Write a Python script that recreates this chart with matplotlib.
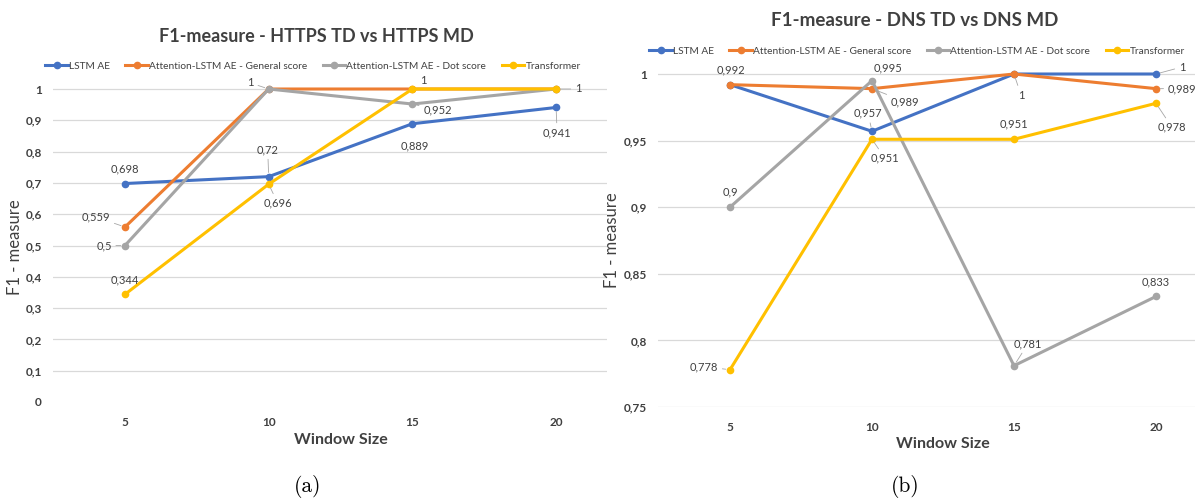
import matplotlib
matplotlib.use("Agg")
import matplotlib.pyplot as plt
import numpy as np

# ---- data -------------------------------------------------------------
window_sizes = ["5", "10", "15", "20"]
series_names = ["LSTM AE", "Attention-LSTM AE - General score",
                "Attention-LSTM AE - Dot score", "Transformer"]

https_lstm = [0.698, 0.72, 0.889, 0.941]
https_general = [0.559, 1, 1, 1]
https_dot = [0.5, 1, 0.952, 1]
https_transformer = [0.344, 0.696, 1, 1]

dns_lstm = [0.992, 0.957, 1, 1]
dns_general = [0.992, 0.989, 1, 0.989]
dns_dot = [0.9, 0.995, 0.781, 0.833]
dns_transformer = [0.778, 0.951, 0.951, 0.978]

https_yticks = [0, 0.1, 0.2, 0.3, 0.4, 0.5, 0.6, 0.7, 0.8, 0.9, 1]
dns_yticks = [0.75, 0.8, 0.85, 0.9, 0.95, 1]

# ---- styling ----------------------------------------------------------
colors = ["#4472C4", "#ED7D31", "#A5A5A5", "#FFC000"]
plt.rcParams["font.family"] = ["Lato", "DejaVu Sans"]

# data-label placement: (series, point) -> (dx px, dy px, leader line)
https_labels = {
    (0, 0): (0, 15, False), (0, 1): (-1, 27, True),
    (0, 2): (2, -22, False), (0, 3): (1, -25, True),
    (1, 0): (-29, 10, True),
    (2, 0): (-21, 0, True), (2, 1): (-18, 6, True),
    (2, 2): (25, -6, True), (2, 3): (22, 0, True),
    (3, 0): (0, 14, False), (3, 1): (9, -19, True), (3, 2): (11, 8, False),
}
dns_labels = {
    (0, 0): (1, 15, False), (0, 1): (-4, 18, True),
    (0, 2): (7, -21, True), (0, 3): (26, 7, True),
    (1, 1): (33, -13, True), (1, 3): (26, 0, True),
    (2, 0): (0, 15, False), (2, 1): (16, 13, False),
    (2, 2): (14, 22, True), (2, 3): (0, 15, False),
    (3, 0): (-26, 3, True), (3, 1): (13, -19, True),
    (3, 2): (0, 15, False), (3, 3): (16, -24, True),
}

W, H = 1195, 501
fig = plt.figure(figsize=(W / 100, H / 100), dpi=100)


def fx(x):
    return x / W


def fy(y):
    return 1 - y / H


def fmt(v):
    return f"{v:g}".replace(".", ",")


def panel(rect_px, xlim, ylim, series, yticks, labels, hide_zero_grid):
    x0, y_top, x1, y_bot = rect_px
    ax = fig.add_axes([fx(x0), fy(y_bot), (x1 - x0) / W, (y_bot - y_top) / H])
    xs = np.arange(len(window_sizes))
    lines = []
    for i, vals in enumerate(series):
        ln, = ax.plot(xs, vals, color=colors[i], lw=2.2, marker="o",
                      markersize=4.5, label=series_names[i], zorder=3 + i,
                      clip_on=False)
        lines.append(ln)
        for j, v in enumerate(vals):
            if (i, j) not in labels:
                continue
            dx, dy, leader = labels[(i, j)]
            ax.annotate(fmt(v), (xs[j], v), xytext=(dx, dy),
                        textcoords="offset pixels", ha="center", va="center",
                        fontsize=8, color="#404040", zorder=10,
                        annotation_clip=False,
                        arrowprops=(dict(arrowstyle="-", color="#A6A6A6",
                                         lw=0.6, shrinkA=1, shrinkB=3)
                                    if leader else None))
    ax.set_xlim(*xlim)
    ax.set_ylim(*ylim)
    ax.set_xticks(xs)
    ax.set_xticklabels(window_sizes, fontsize=8.5, fontweight="bold",
                       color="#404040")
    ax.set_yticks(yticks)
    ax.set_yticklabels([fmt(t) for t in yticks], fontsize=8.5,
                       fontweight="bold", color="#404040")
    ax.tick_params(length=0, axis="y", pad=8)
    ax.tick_params(length=0, axis="x", pad=11)
    for s in ax.spines.values():
        s.set_visible(False)
    ax.grid(axis="y", color="#D9D9D9", lw=0.9, zorder=0)
    ax.set_axisbelow(True)
    if hide_zero_grid:
        ax.yaxis.get_gridlines()[0].set_visible(False)
    return ax, lines


# HTTPS panel: x 5..20 -> px 125..556, y 0..1 -> px 402..89
sx_l, sy_l = 143.7, 313.0
ax1, lines1 = panel((53, 70, 607, 402),
                    ((53 - 125) / sx_l, (607 - 125) / sx_l),
                    (0, (402 - 70) / sy_l),
                    [https_lstm, https_general, https_dot, https_transformer],
                    https_yticks, https_labels, True)

# DNS panel: x 5..20 -> px 730..1156, y 0.75..1 -> px 407..74
sx_r, sy_r = 142.0, 1332.0
ax2, lines2 = panel((658, 58, 1195, 407),
                    ((658 - 730) / sx_r, (1195 - 730) / sx_r),
                    (0.75, 0.75 + (407 - 58) / sy_r),
                    [dns_lstm, dns_general, dns_dot, dns_transformer],
                    dns_yticks, dns_labels, False)

# titles, legends, axis titles, captions
fig.text(fx(316), fy(36), "F1-measure - HTTPS TD vs HTTPS MD", ha="center",
         va="center", fontsize=13, fontweight="bold", color="#404040")
fig.text(fx(915), fy(21), "F1-measure - DNS TD vs DNS MD", ha="center",
         va="center", fontsize=13.5, fontweight="bold", color="#404040")

for ax, lines, cx, cy in ((ax1, lines1, 313, 66), (ax2, lines2, 917, 51)):
    leg = ax.legend(handles=lines, loc="center",
                    bbox_to_anchor=(fx(cx), fy(cy)),
                    bbox_transform=fig.transFigure, ncol=4, frameon=False,
                    fontsize=7.3, handlelength=2.2, handletextpad=0.15,
                    columnspacing=1.5, borderpad=0)
    for t in leg.get_texts():
        t.set_color("#404040")

fig.text(fx(341), fy(440), "Window Size", ha="center", va="center",
         fontsize=11.5, fontweight="bold", color="#404040")
fig.text(fx(943), fy(444), "Window Size", ha="center", va="center",
         fontsize=11.5, fontweight="bold", color="#404040")
fig.text(fx(15), fy(247), "F1 - measure", ha="center", va="center",
         rotation=90, fontsize=12, color="#404040")
fig.text(fx(612), fy(240), "F1 - measure", ha="center", va="center",
         rotation=90, fontsize=12, color="#404040")

fig.text(fx(308), fy(487), "(a)", ha="center", va="center", fontsize=15.5,
         family="cmr10")
fig.text(fx(905), fy(487), "(b)", ha="center", va="center", fontsize=15.5,
         family="cmr10")

fig.savefig("out.png", dpi=100, facecolor="white")
